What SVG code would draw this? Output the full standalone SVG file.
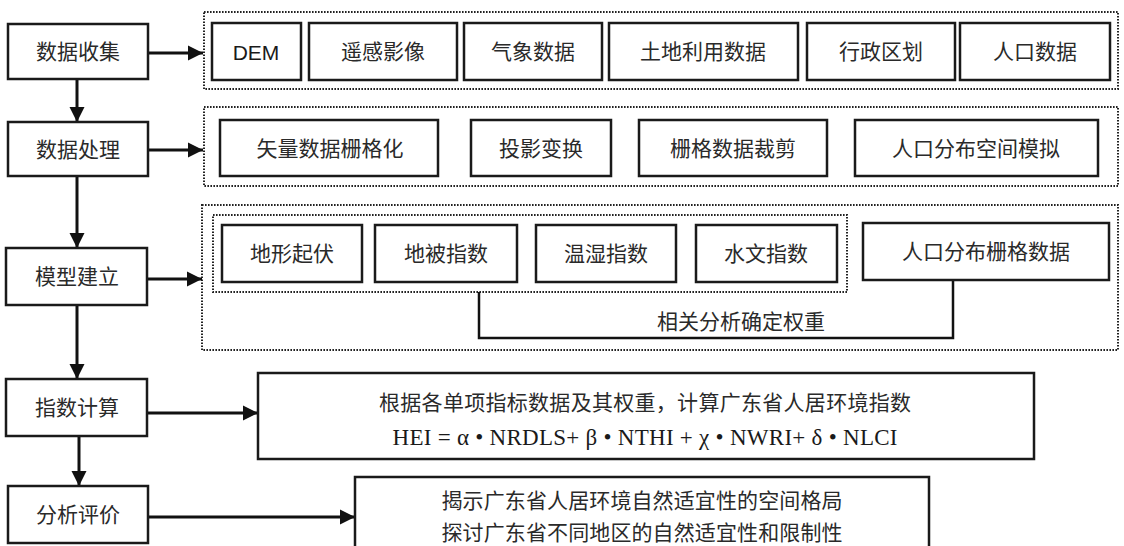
<svg xmlns="http://www.w3.org/2000/svg" width="1124" height="546" viewBox="0 0 1124 546">
<style>
.box{fill:#fff;stroke:#1a1a1a;stroke-width:2.5}
.grp{fill:none;stroke:#222;stroke-width:2;stroke-dasharray:1.6 1.4}
.t{font-family:"Liberation Serif","Noto Sans CJK SC",serif;font-size:21px;fill:#2a2a2a;text-anchor:middle;dominant-baseline:central}
.en{font-family:"Liberation Sans",sans-serif;font-size:21px;fill:#1a1a1a;text-anchor:middle;dominant-baseline:central}
.f{font-family:"Liberation Serif",serif;font-size:23px;fill:#1a1a1a;text-anchor:middle;dominant-baseline:central}
.ln{fill:none;stroke:#111;stroke-width:3}
.br{fill:none;stroke:#111;stroke-width:2.5}
</style>
<defs>
<marker id="ah" markerUnits="userSpaceOnUse" markerWidth="16" markerHeight="16" refX="15" refY="8" orient="auto" viewBox="0 0 16 16">
<path d="M0,0.5 L15,8 L0,15.5 z" fill="#111"/>
</marker>
</defs>
<rect width="1124" height="546" fill="#fff"/>

<g id="groups">
<rect class="grp" x="204" y="12" width="914" height="77"/>
<rect class="grp" x="204" y="107" width="914" height="79"/>
<rect class="grp" x="202" y="205" width="916" height="145"/>
<rect class="grp" x="213" y="215" width="634" height="77"/>
</g>

<g id="connectors">
<line class="ln" x1="148" y1="53" x2="203" y2="53" marker-end="url(#ah)"/>
<line class="ln" x1="148" y1="150" x2="203" y2="150" marker-end="url(#ah)"/>
<line class="ln" x1="147" y1="279" x2="202" y2="279" marker-end="url(#ah)"/>
<line class="ln" x1="147" y1="413" x2="258" y2="413" marker-end="url(#ah)"/>
<line class="ln" x1="148" y1="517" x2="355" y2="517" marker-end="url(#ah)"/>
<line class="ln" x1="77" y1="79" x2="77" y2="122" marker-end="url(#ah)"/>
<line class="ln" x1="77" y1="176" x2="77" y2="248" marker-end="url(#ah)"/>
<line class="ln" x1="77" y1="305" x2="77" y2="379" marker-end="url(#ah)"/>
<line class="ln" x1="79" y1="436" x2="79" y2="486" marker-end="url(#ah)"/>
<polyline class="br" points="479,292 479,338 953,338 953,280"/>
<text class="t" x="741" y="322">相关分析确定权重</text>
</g>

<g id="n-collect"><rect class="box" x="8" y="24" width="140" height="55"/><text class="t" x="78" y="52">数据收集</text></g>
<g id="n-process"><rect class="box" x="8" y="122" width="140" height="54"/><text class="t" x="78" y="150">数据处理</text></g>
<g id="n-model"><rect class="box" x="6" y="248" width="141" height="57"/><text class="t" x="77" y="277">模型建立</text></g>
<g id="n-calc"><rect class="box" x="6" y="379" width="141" height="57"/><text class="t" x="77" y="408">指数计算</text></g>
<g id="n-eval"><rect class="box" x="8" y="486" width="140" height="57"/><text class="t" x="78" y="515">分析评价</text></g>

<g id="n-dem"><rect class="box" x="212" y="23" width="89" height="57"/><text class="en" x="256" y="52">DEM</text></g>
<g id="n-rs"><rect class="box" x="309" y="23" width="148" height="57"/><text class="t" x="383" y="52">遥感影像</text></g>
<g id="n-met"><rect class="box" x="464" y="23" width="138" height="57"/><text class="t" x="533" y="52">气象数据</text></g>
<g id="n-land"><rect class="box" x="609" y="23" width="189" height="57"/><text class="t" x="703" y="52">土地利用数据</text></g>
<g id="n-admin"><rect class="box" x="807" y="23" width="148" height="57"/><text class="t" x="881" y="52">行政区划</text></g>
<g id="n-pop"><rect class="box" x="960" y="23" width="150" height="57"/><text class="t" x="1035" y="52">人口数据</text></g>

<g id="n-vec"><rect class="box" x="220" y="120" width="218" height="56"/><text class="t" x="330" y="149">矢量数据栅格化</text></g>
<g id="n-proj"><rect class="box" x="471" y="120" width="140" height="56"/><text class="t" x="541" y="149">投影变换</text></g>
<g id="n-clip"><rect class="box" x="639" y="120" width="188" height="56"/><text class="t" x="733" y="149">栅格数据裁剪</text></g>
<g id="n-sim"><rect class="box" x="855" y="120" width="243" height="56"/><text class="t" x="976" y="149">人口分布空间模拟</text></g>

<g id="n-relief"><rect class="box" x="222" y="225" width="140" height="57"/><text class="t" x="292" y="254">地形起伏</text></g>
<g id="n-cover"><rect class="box" x="375" y="225" width="142" height="57"/><text class="t" x="446" y="254">地被指数</text></g>
<g id="n-thi"><rect class="box" x="536" y="225" width="140" height="57"/><text class="t" x="606" y="254">温湿指数</text></g>
<g id="n-water"><rect class="box" x="696" y="225" width="141" height="57"/><text class="t" x="766" y="254">水文指数</text></g>
<g id="n-grid"><rect class="box" x="863" y="223" width="246" height="57"/><text class="t" x="986" y="252">人口分布栅格数据</text></g>

<g id="n-formula"><rect class="box" x="258" y="373" width="776" height="86"/>
<text class="t" x="645" y="403" textLength="532" lengthAdjust="spacing">根据各单项指标数据及其权重，计算广东省人居环境指数</text>
<text class="f" x="645" y="437" textLength="505" lengthAdjust="spacing">HEI = α • NRDLS+ β • NTHI + χ • NWRI+ δ • NLCI</text></g>

<g id="n-result"><rect class="box" x="355" y="477" width="574" height="75"/>
<text class="t" x="642" y="501" textLength="401" lengthAdjust="spacing">揭示广东省人居环境自然适宜性的空间格局</text>
<text class="t" x="642" y="533" textLength="401" lengthAdjust="spacing">探讨广东省不同地区的自然适宜性和限制性</text></g>
</svg>
